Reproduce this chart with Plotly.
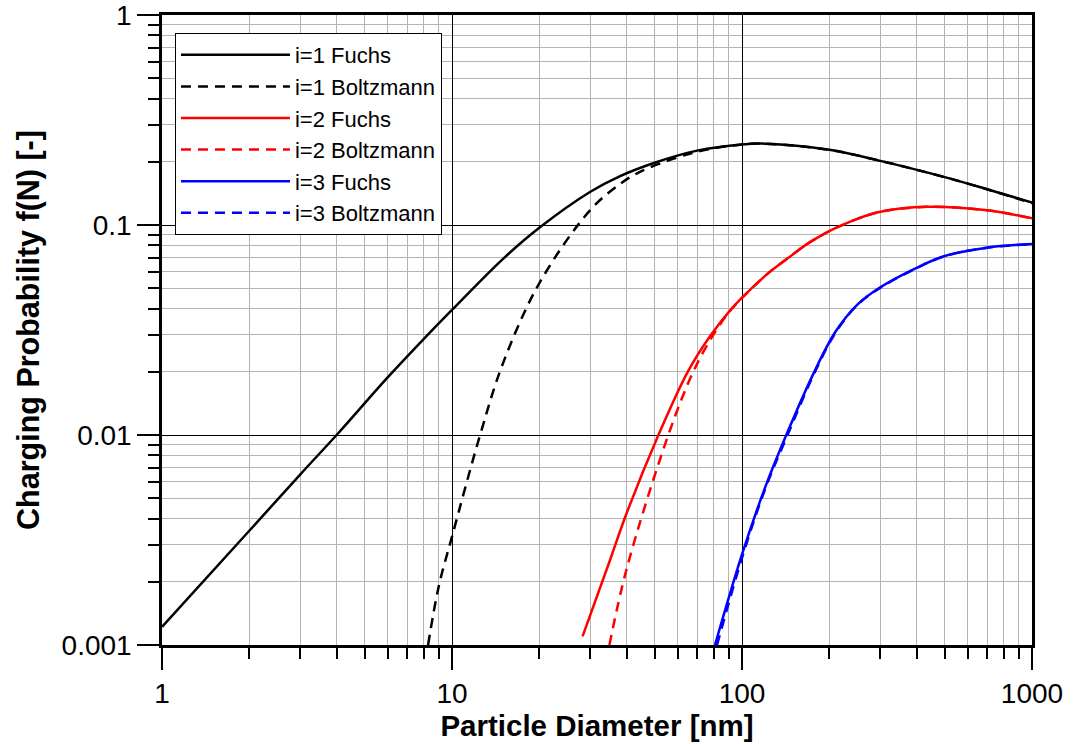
import plotly.graph_objects as go

# ---- data ----
d_fuchs1 = [1, 2, 3, 4, 6, 8, 10, 15, 20, 30, 38, 50, 70, 100, 120, 200, 300, 500, 700, 1000]
f_fuchs1 = [0.00122, 0.0035, 0.0065, 0.0100, 0.0188, 0.0287, 0.0394, 0.069, 0.097, 0.144, 0.171,
            0.198, 0.226, 0.242, 0.244, 0.228, 0.202, 0.169, 0.148, 0.128]

d_boltz1 = [8.27, 9, 10, 12.5, 15, 20, 30, 38, 44.5, 60, 75, 100, 120, 200, 300, 500, 700, 1000]
f_boltz1 = [0.001, 0.0019, 0.00328, 0.01, 0.022, 0.0528, 0.118, 0.157, 0.179, 0.210, 0.228,
            0.242, 0.244, 0.228, 0.202, 0.169, 0.148, 0.127]

d_fuchs2 = [28.2, 35, 40, 51.5, 65, 78.2, 92.1, 108, 125, 145, 165, 186, 208, 250, 300, 433, 700, 1000]
f_fuchs2 = [0.0011, 0.00252, 0.00424, 0.01, 0.02, 0.03, 0.04, 0.05, 0.06, 0.07, 0.08, 0.0885, 0.096,
            0.107, 0.1156, 0.122, 0.1175, 0.1076]

d_boltz2 = [34.9, 40, 55.7, 67.9, 79.6, 92.1, 108, 125, 145, 165, 186, 208, 250, 300, 433, 700, 1000]
f_boltz2 = [0.001, 0.0023, 0.01, 0.02, 0.03, 0.0398, 0.0498, 0.06, 0.07, 0.08, 0.0885, 0.096,
            0.107, 0.1156, 0.122, 0.1175, 0.1076]

d_fuchs3 = [80.7, 100, 120, 142.6, 176, 210, 250, 300, 400, 500, 700, 1000]
f_fuchs3 = [0.001, 0.0027, 0.0056, 0.0101, 0.0195, 0.031, 0.0418, 0.0505, 0.0625, 0.0712, 0.078, 0.0812]

d_boltz3 = [82, 100, 120, 144, 177, 211, 250, 300, 400, 500, 700, 1000]
f_boltz3 = [0.001, 0.0026, 0.0055, 0.0101, 0.0195, 0.031, 0.0416, 0.0503, 0.0623, 0.0711, 0.0779, 0.0811]

series = [
    ("i=1 Fuchs", d_fuchs1, f_fuchs1, "#000000", "solid"),
    ("i=1 Boltzmann", d_boltz1, f_boltz1, "#000000", "10px,7px"),
    ("i=2 Fuchs", d_fuchs2, f_fuchs2, "#ff0000", "solid"),
    ("i=2 Boltzmann", d_boltz2, f_boltz2, "#ff0000", "10px,7px"),
    ("i=3 Fuchs", d_fuchs3, f_fuchs3, "#0000ff", "solid"),
    ("i=3 Boltzmann", d_boltz3, f_boltz3, "#0000ff", "10px,7px"),
]

x_tickvals = [1, 10, 100, 1000]
x_ticktext = ["1", "10", "100", "1000"]
y_tickvals = [0.001, 0.01, 0.1, 1]
y_ticktext = ["0.001", "0.01", "0.1", "1"]
x_minor = [m * 10 ** e for e in range(0, 3) for m in range(2, 10)]
y_minor = [m * 10.0 ** e for e in range(-3, 0) for m in range(2, 10)]

FONT = "Liberation Sans, Arial, sans-serif"

fig = go.Figure()
for name, xs, ys, col, dash in series:
    fig.add_trace(go.Scatter(
        x=xs, y=ys, name=name, mode="lines",
        line=dict(color=col, width=2.5, dash=dash, shape="spline", smoothing=1.0),
    ))

axis_common = dict(
    type="log", automargin=False,
    showline=True, linecolor="black", linewidth=2.5, mirror=True,
    ticks="outside", ticklen=22, tickwidth=2, tickcolor="black",
    showgrid=True, gridcolor="#000000", gridwidth=1,
    zeroline=False, ticklabeloverflow="allow",
    tickfont=dict(family=FONT, size=28, color="black"),
)

fig.update_xaxes(
    **axis_common,
    range=[0, 3],
    tickmode="array", tickvals=x_tickvals, ticktext=x_ticktext,
    minor=dict(tickmode="array", tickvals=x_minor, ticks="outside", ticklen=11, tickwidth=2,
               tickcolor="black", showgrid=True, gridcolor="#b4b4b4", gridwidth=1),
    title=dict(text="Particle Diameter [nm]", standoff=3,
               font=dict(family=FONT, size=29.5, color="black", weight="bold")),
)
fig.update_yaxes(
    **axis_common,
    range=[-3, 0],
    tickmode="array", tickvals=y_tickvals, ticktext=y_ticktext,
    minor=dict(tickmode="array", tickvals=y_minor, ticks="outside", ticklen=11, tickwidth=2,
               tickcolor="black", showgrid=True, gridcolor="#b4b4b4", gridwidth=1),
    title=dict(text="Charging Probability f(N) [-]", standoff=13,
               font=dict(family=FONT, size=30.5, color="black", weight="bold")),
)

fig.update_layout(
    width=1073, height=744,
    margin=dict(l=162, r=41, t=15, b=99),
    paper_bgcolor="white", plot_bgcolor="white",
    font=dict(family=FONT, color="black"),
    legend=dict(
        x=0.0149, y=0.9714, xanchor="left", yanchor="top",
        bgcolor="white", bordercolor="black", borderwidth=1,
        font=dict(family=FONT, size=22, color="black"),
        itemwidth=109, tracegroupgap=0,
    ),
    showlegend=True,
)

fig.write_html("out.html", config={"displayModeBar": False},
               post_script="document.body.style.margin='0px';")
